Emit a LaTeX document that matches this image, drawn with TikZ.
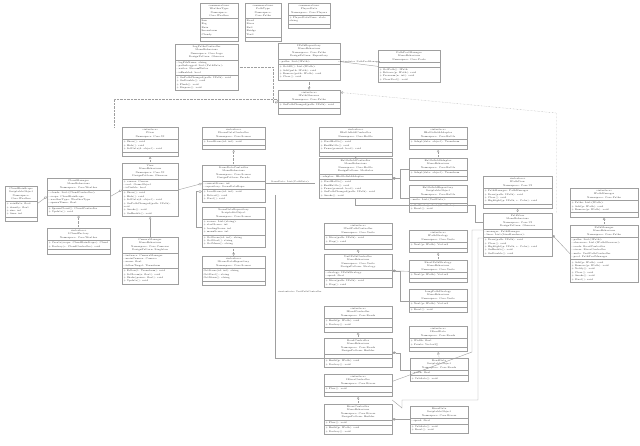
\documentclass[tikz,border=0pt]{standalone}
\usetikzlibrary{shapes.multipart,arrows.meta}
\tikzset{
 cls/.style={draw=gray!75,line width=0.4pt,rectangle split,rectangle split parts=3,anchor=north west,
   font=\fontsize{2.4}{3.4}\selectfont,inner sep=1.4pt,text=black!80},
 lnk/.style={draw=gray!75,line width=0.4pt},
 dep/.style={lnk,densely dotted,-{Triangle[open,length=2.5pt,width=2.5pt]}},
 gen/.style={lnk,-{Triangle[open,length=2.5pt,width=2.5pt]}},
 cmp/.style={lnk,{Diamond[length=4pt,width=2.5pt]}-},
 agg/.style={lnk,{Diamond[open,length=4pt,width=2.5pt]}-},
 lbl/.style={font=\fontsize{2.2}{2.7}\selectfont,text=black!80,inner sep=0.5pt}
}
\newcommand{\cls}[7]{\node[cls,text width=#4pt] (#1) at (#2,#3) {\parbox{#4pt}{\centering #5}\nodepart{two}\parbox{#4pt}{\raggedright #6}\nodepart{three}\parbox{#4pt}{\raggedright #7}};}
\begin{document}
\begin{tikzpicture}[x=1pt,y=-1pt]
\useasboundingbox (0,0) rectangle (640,446);
% top enums
\cls{wt}{200}{3}{35}{«enumeration»\\WeatherType\\Namespace: Core.Weather}{Sun\\Fog\\Rain\\Snowstorm\\Cloudy}{~}
\cls{pt}{245}{3}{33}{«enumeration»\\PathType\\Namespace: Core.Paths}{Road\\River\\Rail\\Bridge\\Trail}{~}
\cls{pl}{288}{3}{39}{«enumeration»\\PlayerState\\Namespace: Core.Players}{+ PlayerStateNone: state string}{~}
% row 2
\cls{lpc}{175}{44}{60}{LogPathsController\\MonoBehaviour\\Namespace: Core.Logs\\DesignPattern: Observer}{- logFileName: string\\- pathsLogged: List<PathData>\\- writer: StreamWriter\\- isEnabled: bool}{+ OnPathChanged(path: IPath): void\\+ OnDisable(): void\\+ Flush(): void\\+ Dispose(): void}
\cls{ipr}{278}{43}{59}{IPathRepository\\MonoBehaviour\\Namespace: Core.Paths\\DesignPattern: Repository}{- paths: List<IPath>}{+ GetAll(): List<IPath>\\+ Add(path: IPath): void\\+ Remove(path: IPath): void\\+ Clear(): void}
\cls{ppm}{378}{50}{59}{PathPoolManager\\MonoBehaviour\\Namespace: Core.Pools}{~}{+ GetPath(): IPath\\+ Release(p: IPath): void\\+ Prewarm(n: int): void\\+ ClearPool(): void}
\cls{ipo}{278}{90}{59}{«interface»\\IPathObserver\\Namespace: Core.Paths}{+ OnPathChanged(path: IPath): void}{~\\~}
% row 3 interfaces
\cls{iview}{122}{127}{53}{«interface»\\IView\\Namespace: Core.UI}{+ Show(): void\\+ Hide(): void\\+ SetData(d: object): void}{~}
\cls{isdc}{202}{127}{60}{«interface»\\ISceneDataController\\Namespace: Core.Scenes}{+ LoadScene(id: int): void}{~}
\cls{ibc}{319}{127}{70}{«interface»\\IBattlefieldController\\Namespace: Core.Battle}{+ StartBattle(): void\\+ EndBattle(): void\\+ Pause(paused: bool): void}{~}
\cls{iba}{409}{127}{55}{«interface»\\IBattlefieldAdaptor\\Namespace: Core.Battle}{+ Adapt(data: object): Transform}{~}
% left cluster
\cls{crs}{5}{186}{29}{CloudRainScope\\ScriptableObject\\Namespace: Core.Weather}{+ rainRate: float\\+ density: float\\+ size: int\\+ time: int}{~}
\cls{cm}{47}{178}{60}{CloudManager\\MonoBehaviour\\Namespace: Core.Weather}{- clouds: List<CloudController>\\- scope: CloudRainScope\\- weatherType: WeatherType\\- spawnTimer: float}{+ SpawnCloud(): CloudController\\+ Update(): void}
\cls{icf}{47}{228}{60}{«interface»\\ICloudFactory\\Namespace: Core.Weather}{+ Create(scope: CloudRainScope): Cloud\\+ Destroy(c: CloudController): void}{~}
\cls{view}{122}{163}{53}{View\\MonoBehaviour\\Namespace: Core.UI\\DesignPattern: Observer}{+ canvas: Canvas\\- root: GameObject\\- isVisible: bool}{+ Show(): void\\+ Hide(): void\\+ SetData(d: object): void\\+ OnPathChanged(path: IPath): void\\+ Awake(): void\\+ OnEnable(): void}
\cls{cam}{122}{237}{53}{CameraManager\\MonoBehaviour\\Namespace: Core.Cameras\\DesignPattern: Singleton}{- instance: CameraManager\\- mainCamera: Camera\\- zoom: float\\- followTarget: Transform}{+ Follow(t: Transform): void\\+ SetZoom(z: float): void\\+ Shake(power: float): void\\+ Update(): void}
\cls{spc}{202}{165}{60}{SceneDataController\\MonoBehaviour\\Namespace: Core.Scenes\\DesignPattern: Facade}{- currentScene: int\\- repository: SceneDataRepo}{+ LoadScene(id: int): void\\+ Reload(): void\\+ Start(): void}
\cls{sdr}{202}{207}{60}{SceneDataRepository\\ScriptableObject\\Namespace: Core.Scenes}{+ scenes: List<string>\\+ startScene: int\\+ loadingScene: int\\+ menuScene: int}{+ GetScene(id: int): string\\+ GetStart(): string\\+ GetMenu(): string}
\cls{isdr}{202}{256}{60}{«interface»\\ISceneDataRepository\\Namespace: Core.Scenes}{GetScene(id: int): string\\GetStart(): string\\GetMenu(): string}{~}
% middle column
\cls{bc}{319}{158}{70}{BattlefieldController\\MonoBehaviour\\Namespace: Core.Battle\\DesignPattern: Mediator}{- adaptor: IBattlefieldAdaptor}{+ StartBattle(): void\\+ EndBattle(): void\\+ Pause(paused: bool): void\\+ OnPathChanged(path: IPath): void\\+ Awake(): void}
\cls{bfa}{409}{158}{55}{BattlefieldAdaptor\\MonoBehaviour\\Namespace: Core.Battle}{+ Adapt(data: object): Transform}{~}
\cls{bfr}{409}{185}{55}{BattlefieldRepository\\ScriptableObject\\Namespace: Core.Battle}{- units: List<UnitData>}{+ GetUnits(): List<UnitData>\\+ Reset(): void}
\cls{iupc}{324}{223}{65}{«interface»\\IUnitPathController\\Namespace: Core.Units}{+ Move(path: IPath): void\\+ Stop(): void}{~}
\cls{upc}{324}{254}{65}{UnitPathController\\MonoBehaviour\\Namespace: Core.Units\\DesignPattern: Strategy}{- strategy: IPathStrategy\\- speed: float}{+ Move(path: IPath): void\\+ Stop(): void}
\cls{ips}{409}{230}{55}{«interface»\\IPathStrategy\\Namespace: Core.Units}{+ Next(p: IPath): Vector3}{~}
\cls{sps}{409}{260}{55}{ShortPathStrategy\\MonoBehaviour\\Namespace: Core.Units}{+ Next(p: IPath): Vector3}{~}
\cls{lps}{409}{289}{55}{LongPathStrategy\\MonoBehaviour\\Namespace: Core.Units}{+ Next(p: IPath): Vector3}{+ Reset(): void}
\cls{ird}{409}{326}{55}{«interface»\\IRoadData\\Namespace: Core.Roads}{+ Width: float\\+ Points: Vector3[]}{~}
\cls{irc}{324}{306}{65}{«interface»\\IRoadController\\Namespace: Core.Roads}{+ Build(p: IPath): void\\+ Destroy(): void}{~}
\cls{rc}{324}{338}{65}{RoadController\\MonoBehaviour\\Namespace: Core.Roads\\DesignPattern: Builder}{~}{+ Build(p: IPath): void\\+ Destroy(): void}
\cls{rd}{410}{358}{55}{RoadData\\ScriptableObject\\Namespace: Core.Roads}{- width: float}{+ Validate(): void}
\cls{irv}{324}{374}{65}{«interface»\\IRiverController\\Namespace: Core.Rivers}{+ Flow(): void}{~}
\cls{rvc}{324}{404}{65}{RiverController\\MonoBehaviour\\Namespace: Core.Rivers\\DesignPattern: Builder}{+ Flow(): void}{+ Build(p: IPath): void\\+ Destroy(): void}
\cls{rvd}{410}{406}{55}{RiverData\\ScriptableObject\\Namespace: Core.Rivers}{- speed: float}{+ Validate(): void\\+ Reset(): void}
% right
\cls{ipv}{483}{176}{66}{«interface»\\IPathView\\Namespace: Core.UI}{+ PathManager: PathManager\\+ Draw(path: IPath): void\\+ Clear(): void\\+ Highlight(p: IPath, c: Color): void}{~}
\cls{pv}{483}{213}{66}{PathView\\MonoBehaviour\\Namespace: Core.UI\\DesignPattern: Observer}{- manager: PathManager\\- lines: List<LineRenderer>}{+ Draw(path: IPath): void\\+ Clear(): void\\+ Highlight(p: IPath, c: Color): void\\+ OnEnable(): void\\+ OnDisable(): void}
\cls{ipm}{570}{188}{65}{«interface»\\IPathManager\\Namespace: Core.Paths}{+ Paths: List<IPath>\\+ Add(p: IPath): void\\+ Remove(p: IPath): void}{~}
\cls{pm}{570}{225}{65}{PathManager\\MonoBehaviour\\Namespace: Core.Paths}{- paths: List<IPath>\\- observers: List<IPathObserver>\\- roads: RoadController\\- rivers: RiverController\\- units: UnitPathController\\- pool: PathPoolManager}{+ Add(p: IPath): void\\+ Remove(p: IPath): void\\+ Notify(): void\\+ Clear(): void\\+ Awake(): void\\+ Start(): void}
\coordinate (j1) at (472,230);
\coordinate (j2) at (478,238);
% connectors
\draw[dep] (lpc.east) -- ++(35,0) |- (ipo.west);
\draw[dep] (ipr.south) -- (ipo.north);
\draw[lnk] (ipr.east) -- node[lbl,above]{«instantiate» PathPoolManager} (ppm.west);
\draw[dep] ([xshift=-8pt]iview.north west) -- ++(0,-28) -| (ipo.west);
\draw[dep] ([xshift=4pt]pv.north east) -- ++(0,-100) -- ([yshift=10pt]ipo.east);
\draw[dep] (view.north) -- (iview.south);
\draw[dep] (spc.north) -- (isdc.south);
\draw[dep] (bc.north) -- (ibc.south);
\draw[dep] (bfa.north) -- (iba.south);
\draw[dep] (pv.north) -- (ipv.south);
\draw[dep] (pm.north) -- (ipm.south);
\draw[dep] (icf.north) -- (cm.south);
\draw[dep] (sdr.south) -- (isdr.north);
\draw[dep] (upc.north) -- (iupc.south);
\draw[dep] (sps.north) -- (ips.south);
\draw[dep] (rc.north) -- (irc.south);
\draw[dep] (rd.north) -- (ird.south);
\draw[dep] (rvc.north) -- (irv.south);
\draw[gen] (cam.north) -- (view.south);
\draw[agg] (cm.west) -- (crs.east);
\draw[agg] (view.west) -- (cm.east);
\draw[agg] (spc.west) -- (view.east);
\draw[agg] (spc.west) ++(0,8) -- ++(-6,0) |- (sdr.west);
\draw[lnk] (spc.east) -- node[lbl,above,pos=0.5]{SceneData: List<PathData>} ++(50,0);
\draw[agg] (bc.east) -- ++(8,0) |- (bfa.west);
\draw[cmp] (bc.east) -- ++(8,0) |- (bfr.west);
\draw[cmp] (upc.east) -- (sps.west);
\draw[cmp] (upc.east) -- ++(8,0) |- (lps.west);
\draw[cmp] (rc.east) -- ++(8,0) |- (rd.west);
\draw[cmp] (rvc.east) -- ++(8,0) |- (rvd.west);
\draw[cmp] (pv.east) -- (pm.west);
\draw[lnk] (bc.south) -- ++(0,6) -| (475,222) -- (pv.west |- 0,222);
\draw[lnk] ([yshift=-14pt]rc.south east) -- (472,352) |- (pv.west |- j1);
\draw[lnk] ([yshift=4pt]rvc.north east) -- (402,408) |- (478,400) |- (pv.west |- j2);
\draw[lnk] (275,195) -- (275,358) -- (rc.west |- 0,358);
\node[lbl,anchor=west] at (277,292) {«instantiate» UnitPathController};
\end{tikzpicture}
\end{document}
